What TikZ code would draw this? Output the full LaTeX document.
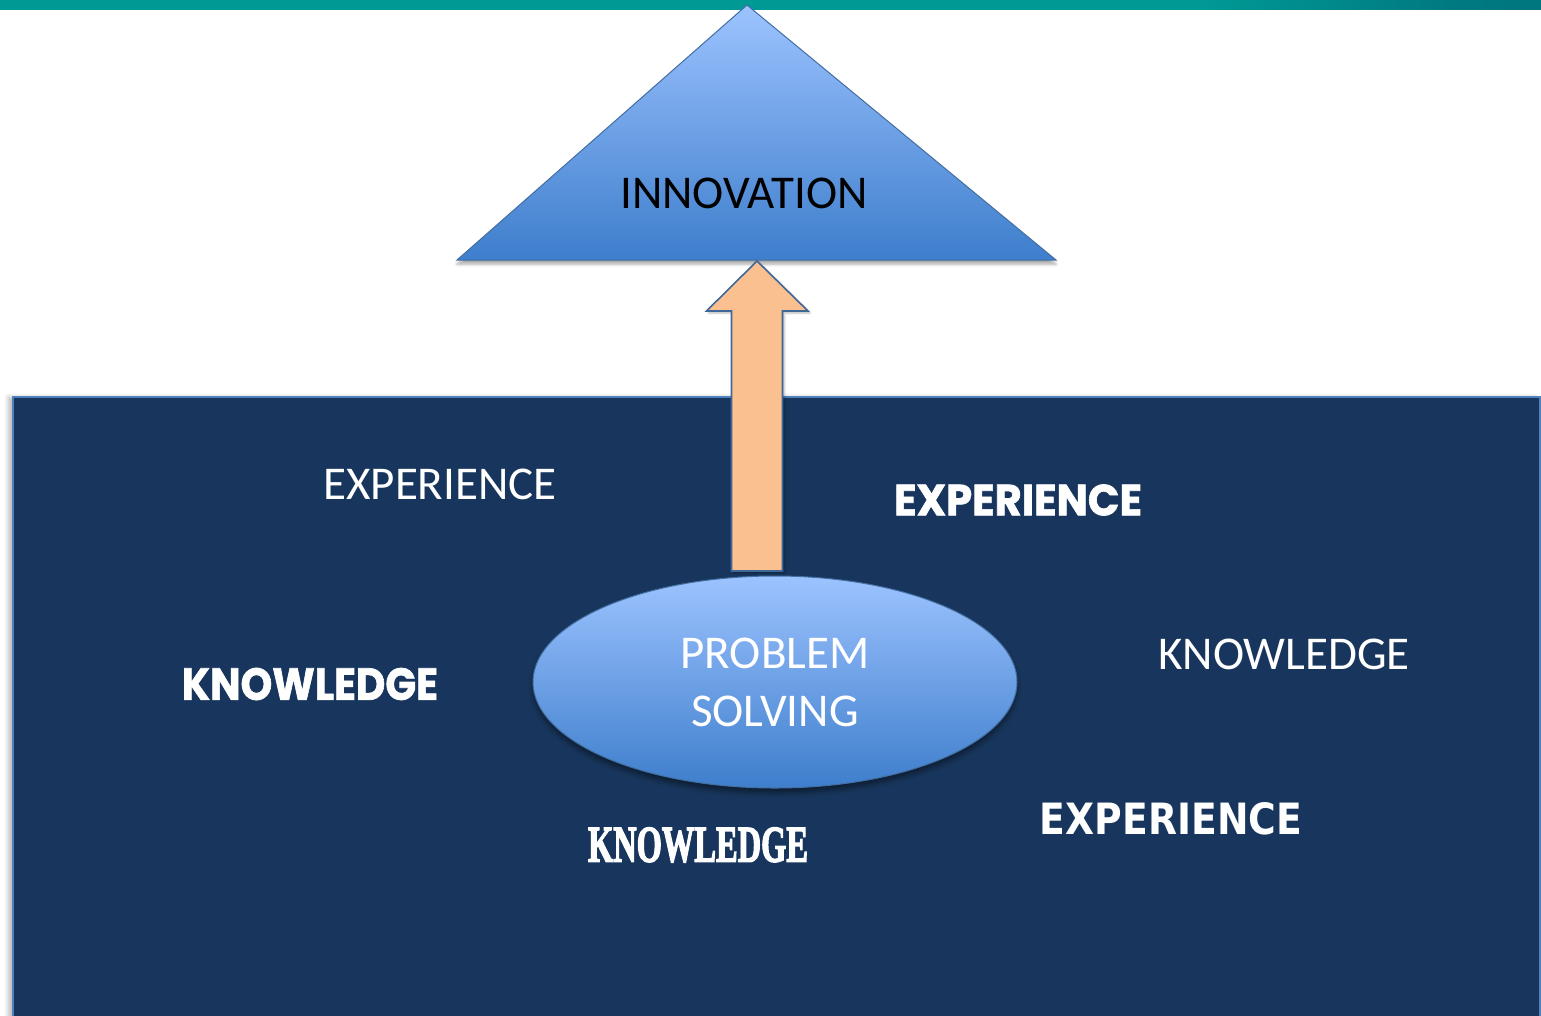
\documentclass[tikz,border=0pt]{standalone}
\usepackage{fontspec}
\usepackage{graphicx}
\setmainfont{Carlito}
\newfontfamily\roundfont{Poppins}[BoldFeatures={FakeBold=1.5}]
\newfontfamily\condfont{Liberation Serif}[BoldFeatures={FakeBold=3}]
\newfontfamily\widefont{DejaVu Sans}
\usetikzlibrary{shapes.geometric,calc,shadows.blur}

\definecolor{deepnavy}{RGB}{24,54,93}
\definecolor{edgeblue}{RGB}{79,129,189}
\definecolor{skytop}{RGB}{156,195,255}
\definecolor{skybottom}{RGB}{62,126,204}
\definecolor{peach}{RGB}{250,192,144}
\definecolor{tealbar}{RGB}{0,153,148}
\definecolor{tealmid}{RGB}{0,122,128}
\definecolor{tealdark}{RGB}{0,84,118}

\pgfdeclarehorizontalshading{headerbar}{100bp}{%
  color(0bp)=(tealbar); color(64bp)=(tealbar);
  color(72bp)=(tealmid); color(100bp)=(tealdark)}

% squeeze a word into a given box (width, height in pt)
\newcommand{\fitword}[3]{\resizebox{#1pt}{#2pt}{#3}}

\tikzset{
  panel/.style   = {fill=deepnavy, draw=edgeblue, line width=1.4pt},
  sky/.style     = {top color=skytop, bottom color=skybottom,
                    draw=edgeblue!85!black, line width=1pt},
  upblock/.style = {fill=peach, draw=edgeblue!80!black, line width=1.6pt},
  plain/.style   = {inner sep=0pt, font=\fontsize{47}{58}\selectfont},
  fancy/.style   = {inner sep=0pt, text=white, font=\bfseries},
}

\begin{document}
\begin{tikzpicture}[x=1pt, y=-1pt]
\useasboundingbox (0,0) rectangle (1541,1015);

%% ── Header strip ──────────────────────────────────────────
\shade[shading=headerbar] (0,-3) rectangle (1541,9);

%% ── Background panel ──────────────────────────────────────
\draw[panel, blur shadow={shadow xshift=-5pt, shadow yshift=0pt,
      shadow blur radius=4pt, shadow opacity=25}]
  (13,397) rectangle (1540,1030);

%% ── Triangle on top ───────────────────────────────────────
\path[sky, blur shadow={shadow xshift=0pt, shadow yshift=-4pt,
      shadow blur radius=3pt, shadow opacity=35}]
  (457,260) -- (747,5) -- (1056,260) -- cycle;
\node[plain] (innov) at (744,193) {INNOVATION};

%% ── Block arrow ───────────────────────────────────────────
\coordinate (tip)  at (757,261);
\coordinate (foot) at (757,571);
\draw[upblock, blur shadow={shadow xshift=2pt, shadow yshift=-2pt,
      shadow blur radius=2pt, shadow opacity=30}]
  ($(foot)+(-25.5,0)$) -- ++(0,-260) -- ++(-25,0) -- (tip)
  -- ++(51,50) -- ++(-25.5,0) -- ($(foot)+(25.5,0)$) -- cycle;

%% ── Ellipse ───────────────────────────────────────────────
\node[ellipse, sky, plain, text=white, align=center,
      minimum width=484pt, minimum height=212pt,
      blur shadow={shadow xshift=0pt, shadow yshift=-5pt,
      shadow blur radius=5pt, shadow opacity=45}]
  (solve) at (775,682) {PROBLEM\\SOLVING};

%% ── Words around ──────────────────────────────────────────
\node[plain, text=white] (expA) at (440,484)  {EXPERIENCE};
\node[plain, text=white] (knwA) at (1284,654) {KNOWLEDGE};

\node[fancy] (expB) at (1018,500) {\fitword{248}{31}{\roundfont\bfseries EXPERIENCE}};
\node[fancy] (knwB) at (310,684)  {\fitword{256}{32}{\roundfont\bfseries KNOWLEDGE}};
\node[fancy] (knwC) at (698,845)  {\fitword{220}{34}{\condfont\bfseries KNOWLEDGE}};
\node[fancy] (expC) at (1171,819) {\fitword{262}{32}{\widefont\bfseries EXPERIENCE}};

\end{tikzpicture}
\end{document}
